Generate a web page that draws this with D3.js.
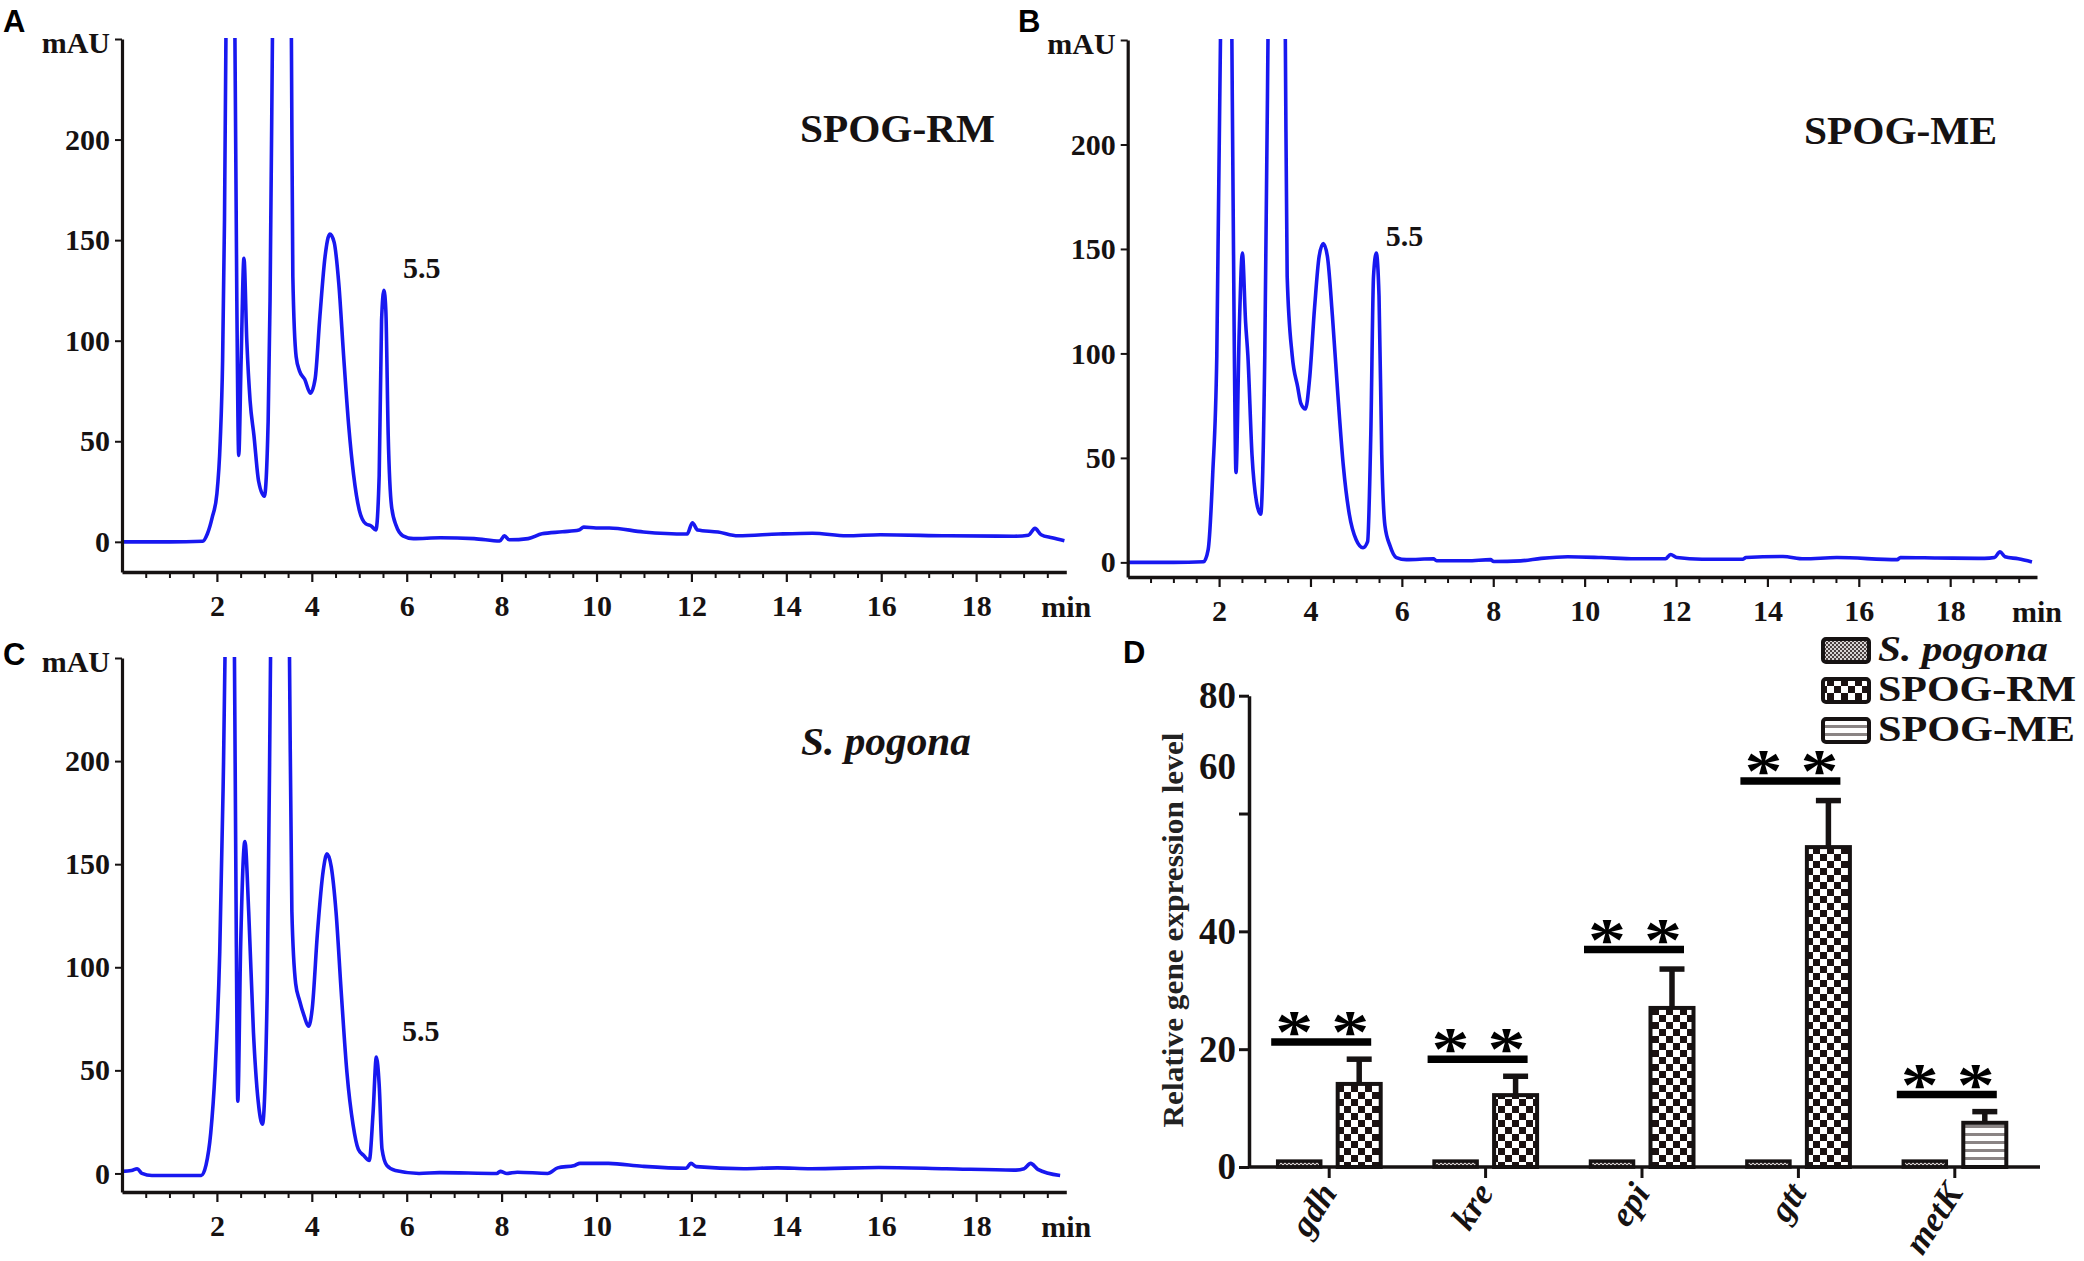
<!DOCTYPE html>
<html><head><meta charset="utf-8">
<script src="https://cdn.jsdelivr.net/npm/d3@7"></script>
<style>
body{margin:0;background:#fff;}
svg{display:block;}
</style></head><body>
<svg id="fig" width="2084" height="1261"></svg>
<script>
// ---------------- DATA ----------------
// Chromatogram A (SPOG-RM): retention time (min) and absorbance (mAU); values > 250 are off-scale (clipped)
const timeA = [0,1.0,1.7,1.8,1.9,2.0,2.07,2.12,2.16,2.19,2.28,2.38,2.42,2.46,2.51,2.57,2.63,2.7,2.78,2.88,3.0,3.08,3.12,3.17,3.37,3.57,3.6,3.67,3.74,3.85,3.97,4.07,4.17,4.28,4.38,4.47,4.57,4.67,4.78,4.88,5.0,5.14,5.25,5.35,5.42,5.47,5.52,5.56,5.61,5.68,5.78,5.92,6.14,6.71,7.42,7.96,8.06,8.16,8.56,8.85,9.28,9.63,9.73,9.99,10.27,10.99,11.91,12.02,12.13,12.56,12.98,13.84,14.55,15.27,15.98,17.4,18.8,19.1,19.24,19.37,19.6,19.86];
const mauA  = [0,0,0.3,4,12,24,50,90,160,250,700,250,120,43,90,141,100,70,53,30,22.7,60,120,250,800,250,132,92,85,80.8,73.9,81,112,142,153,149,128,92.6,57,33.5,15.8,8.9,7.9,5.9,33,110,125,115,53,17.7,7.9,3,1.6,2,1.6,0.4,3,1,1.6,4,5,5.9,7.3,6.9,6.9,4.9,3.9,9.5,5.9,4.9,3,3.9,4.3,3,3.5,3,2.8,3.3,6.7,3.5,2,0.5];

// Chromatogram B (SPOG-ME)
const timeB = [0,1.0,1.66,1.76,1.86,1.95,2.03,2.15,2.28,2.33,2.37,2.44,2.51,2.58,2.63,2.72,2.82,2.91,3.0,3.07,3.26,3.45,3.49,3.6,3.72,3.79,3.89,3.98,4.09,4.19,4.28,4.37,4.48,4.6,4.72,4.85,5.0,5.15,5.25,5.32,5.38,5.44,5.5,5.56,5.63,5.74,5.88,6.1,6.69,6.76,7.43,7.94,8.01,8.6,9.05,9.63,10.37,11.1,11.77,11.88,12.02,12.57,13.46,13.53,14.34,14.8,15.52,16.84,16.91,17.72,18.75,18.97,19.09,19.2,19.49,19.79];
const mauB  = [0,0,0.3,6,42,99,250,700,250,110,43,110,148,115,99,51.6,28.8,23,99,250,800,250,137,99,84,76,73.4,87.7,122,146.5,152.6,146.5,118,80,46,23,10.8,7,9.9,61,137,148,127.6,51.6,17.5,8,2.3,1.3,1.7,0.8,0.8,1.3,0.4,0.7,1.9,2.7,2.3,1.7,1.7,3.8,2.3,1.5,1.5,2.3,2.8,1.7,2.3,1.3,2.3,2.1,1.9,2.3,5.1,2.7,1.7,0.2];

// Chromatogram C (S. pogona)
const timeC = [0,0.2,0.32,0.42,0.63,1.13,1.67,1.77,1.87,1.96,2.06,2.13,2.17,2.27,2.37,2.41,2.44,2.5,2.59,2.67,2.77,2.87,2.96,3.06,3.13,3.33,3.53,3.58,3.66,3.74,3.84,3.93,4.01,4.12,4.24,4.32,4.41,4.51,4.62,4.74,4.87,4.98,5.09,5.21,5.29,5.36,5.42,5.48,5.58,5.76,6.26,6.69,7.9,7.97,8.11,8.33,8.97,9.18,9.54,9.65,10.25,10.96,11.89,11.99,12.1,13.1,13.81,14.52,15.95,17.37,18.8,19.01,19.15,19.3,19.77];
const mauC  = [1,1.4,2.3,0,-1,-1,-1,4,19.6,49,107.6,186,250,700,250,110,35,110,161,127,68.5,35,23.9,88,250,800,250,127,92,84,76.3,71.4,80.2,117,146.8,155,148.7,127,88,49,23.5,11.7,8.8,6.3,29,56.4,43,11.7,3.9,1.4,0,0.4,0,1,0,0.6,0,2.7,3.9,4.9,4.9,3.5,2.5,4.9,3.3,2.3,2.7,2.3,2.9,2.3,1.6,2.3,4.9,2,-1];

const timeTicks = [2,4,6,8,10,12,14,16,18];
const mauTicks  = [0,50,100,150,200,250];
const mauTickLabels = ["0","50","100","150","200","mAU"];

// Panel D: relative gene expression
const genes        = ["gdh","kre","epi","gtt","metK"];
const controlMean  = [1,1,1,1,1];                 // S. pogona
const treatedMean  = [14.1,12.2,27.0,54.3,7.5];
const treatedUpper = [18.3,15.4,33.6,62.2,9.4];  // mean + SD
const treatedGroup = ["SPOG-RM","SPOG-RM","SPOG-RM","SPOG-RM","SPOG-ME"];
const sigLineLevel = [21.2,18.3,36.9,65.5,12.3];
const sigMarks     = ["* *","* *","* *","* *","* *"];
const exprTicks    = [0,20,40,60,80];
const legendGroups = ["S. pogona","SPOG-RM","SPOG-ME"];

// ---------------- DRAWING ----------------
const SERIF = "'Liberation Serif','Times New Roman',serif";
const SANS = "'Liberation Sans',Arial,sans-serif";
const INK = "#161212";
const svg = d3.select("#fig");
const defs = svg.append("defs");

// patterns
(function(){
  const p1 = defs.append("pattern").attr("id","pRM").attr("patternUnits","userSpaceOnUse").attr("width",14).attr("height",14);
  p1.append("rect").attr("width",14).attr("height",14).attr("fill","#fff");
  p1.append("rect").attr("width",7).attr("height",7).attr("fill","#1b1212");
  p1.append("rect").attr("x",7).attr("y",7).attr("width",7).attr("height",7).attr("fill","#1b1212");
  const p0 = defs.append("pattern").attr("id","pSP").attr("patternUnits","userSpaceOnUse").attr("width",4).attr("height",4);
  p0.append("rect").attr("width",4).attr("height",4).attr("fill","#d8d4d4");
  p0.append("rect").attr("width",2).attr("height",2).attr("fill","#4a4040");
  p0.append("rect").attr("x",2).attr("y",2).attr("width",2).attr("height",2).attr("fill","#4a4040");
  const p2 = defs.append("pattern").attr("id","pME").attr("patternUnits","userSpaceOnUse").attr("width",8).attr("height",8);
  p2.append("rect").attr("width",8).attr("height",8).attr("fill","#fff");
  p2.append("rect").attr("y",5).attr("width",8).attr("height",3).attr("fill","#8a8484");
})();
const fillFor = {"S. pogona":"url(#pSP)","SPOG-RM":"url(#pRM)","SPOG-ME":"url(#pME)"};

function drawChrom(cfg){
  const g = svg.append("g");
  const x = d3.scaleLinear().domain([0,19.9]).range([cfg.x0,cfg.x1]);
  const y = d3.scaleLinear().domain([cfg.yMin,250]).range([cfg.yBot,cfg.yTop]);
  const cid = "clip"+cfg.id;
  defs.append("clipPath").attr("id",cid).append("rect")
    .attr("x",cfg.x0).attr("y",cfg.yTop-1).attr("width",cfg.x1-cfg.x0+4).attr("height",cfg.yBot-cfg.yTop);
  const pts = cfg.times.map((t,i)=>[t,cfg.values[i]]);
  g.append("path").datum(pts).attr("clip-path",`url(#${cid})`)
    .attr("fill","none").attr("stroke","#1818f0").attr("stroke-width",3.6).attr("stroke-linejoin","round")
    .attr("d", d3.line().x(d=>x(d[0])).y(d=>y(d[1])).curve(d3.curveMonotoneX));

  // minor x ticks
  const gm = g.append("g").attr("transform",`translate(0,${cfg.yBot})`)
    .call(d3.axisBottom(x).tickValues(d3.range(0.5,19.9,0.5).filter(v=>!timeTicks.includes(v))).tickSize(6).tickFormat(""));
  gm.select(".domain").remove();
  gm.selectAll("line").attr("stroke",INK).attr("stroke-width",2);
  // major x axis
  const gx = g.append("g").attr("transform",`translate(0,${cfg.yBot})`)
    .call(d3.axisBottom(x).tickValues(timeTicks).tickSize(10).tickSizeOuter(0).tickPadding(13).tickFormat(d3.format("d")));
  gx.select(".domain").attr("stroke",INK).attr("stroke-width",3.6);
  gx.selectAll("line").attr("stroke",INK).attr("stroke-width",2.2);
  gx.selectAll("text").attr("font-family",SERIF).attr("font-size",30).attr("font-weight","bold").attr("fill",INK);
  g.append("text").attr("x",x(19.9)).attr("y",cfg.yBot+45).attr("text-anchor","middle")
    .attr("font-family",SERIF).attr("font-size",30).attr("font-weight","bold").attr("fill",INK).text("min");
  // y axis
  const gy = g.append("g").attr("transform",`translate(${cfg.x0},0)`)
    .call(d3.axisLeft(y).tickValues(mauTicks).tickSize(7).tickSizeOuter(0).tickPadding(5)
      .tickFormat((d,i)=>mauTickLabels[i]));
  gy.select(".domain").attr("stroke",INK).attr("stroke-width",3.2);
  gy.selectAll("line").attr("stroke",INK).attr("stroke-width",2);
  gy.selectAll("text").attr("font-family",SERIF).attr("font-size",30).attr("font-weight","bold").attr("fill",INK);
  gy.selectAll(".tick").filter(d=>d===250).select("text").attr("dy","0.45em");

  // sample title
  g.append("text").attr("x",cfg.titleX).attr("y",cfg.titleY)
    .attr("font-family",SERIF).attr("font-size",39).attr("font-weight","bold")
    .attr("font-style",cfg.italic?"italic":"normal").attr("fill",INK)
    .attr("textLength",cfg.titleLen).attr("lengthAdjust","spacingAndGlyphs").text(cfg.title);
  // peak label
  g.append("text").attr("x",x(cfg.peakLabel[0])).attr("y",y(cfg.peakLabel[1]))
    .attr("font-family",SERIF).attr("font-size",30).attr("font-weight","bold").attr("fill",INK).text("5.5");
  // panel letter
  svg.append("text").attr("x",cfg.letterX).attr("y",cfg.letterY)
    .attr("font-family",SANS).attr("font-size",31).attr("font-weight","bold").attr("fill","#000").text(cfg.letter);
}

drawChrom({id:"A",letter:"A",letterX:3,letterY:32,x0:122,x1:1066.3,yTop:39,yBot:572,yMin:-15,
  times:timeA,values:mauA,title:"SPOG-RM",titleX:800,titleY:142,titleLen:195,italic:false,peakLabel:[5.92,131]});
drawChrom({id:"B",letter:"B",letterX:1018,letterY:32,x0:1127.7,x1:2037,yTop:40,yBot:577,yMin:-7,
  times:timeB,values:mauB,title:"SPOG-ME",titleX:1804,titleY:144,titleLen:193,italic:false,peakLabel:[5.65,151.3]});
drawChrom({id:"C",letter:"C",letterX:3,letterY:665,x0:122,x1:1066.3,yTop:658,yBot:1192,yMin:-9,
  times:timeC,values:mauC,title:"S. pogona",titleX:801,titleY:755,titleLen:170,italic:true,peakLabel:[5.9,64.3]});

// ---------------- PANEL D ----------------
(function(){
  const g = svg.append("g");
  const y = d3.scaleLinear().domain([0,80]).range([1167,695.7]);
  const x = d3.scaleBand().domain(genes).range([1251,2033]);
  const sub = d3.scaleBand().domain(["ctrl","trt"]).range([-51.5,51.5]).paddingInner(0.283);
  const cx = g0 => x(g0)+x.bandwidth()/2;

  const rows = genes.map((gn,i)=>({gene:gn,ctrl:controlMean[i],mean:treatedMean[i],upper:treatedUpper[i],
    group:treatedGroup[i],sig:sigLineLevel[i],mark:sigMarks[i]}));
  const bg = g.append("g");
  bg.selectAll("rect.ctrl").data(rows).join("rect").attr("class","ctrl")
    .attr("x",d=>cx(d.gene)+sub("ctrl")).attr("width",sub.bandwidth())
    .attr("y",d=>y(d.ctrl)).attr("height",d=>y(0)-y(d.ctrl))
    .attr("fill",fillFor["S. pogona"]).attr("stroke",INK).attr("stroke-width",3.5);
  // error bars
  const ex = d=>cx(d.gene)+sub("trt")+sub.bandwidth()/2;
  bg.selectAll("line.err").data(rows).join("line").attr("class","err")
    .attr("x1",ex).attr("x2",ex)
    .attr("y1",d=>y(d.mean)).attr("y2",d=>y(d.upper)).attr("stroke",INK).attr("stroke-width",5.5);
  bg.selectAll("line.cap").data(rows).join("line").attr("class","cap")
    .attr("x1",d=>ex(d)-12.5).attr("x2",d=>ex(d)+12.5)
    .attr("y1",d=>y(d.upper)).attr("y2",d=>y(d.upper)).attr("stroke",INK).attr("stroke-width",5.5);
  bg.selectAll("rect.trt").data(rows).join("rect").attr("class","trt")
    .attr("x",d=>cx(d.gene)+sub("trt")).attr("width",sub.bandwidth())
    .attr("y",d=>y(d.mean)).attr("height",d=>y(0)-y(d.mean))
    .attr("fill",d=>fillFor[d.group]).attr("stroke",INK).attr("stroke-width",4);

  // significance lines + asterisks
  bg.selectAll("line.sig").data(rows).join("line").attr("class","sig")
    .attr("x1",d=>cx(d.gene)-8-50).attr("x2",d=>cx(d.gene)-8+50)
    .attr("y1",d=>y(d.sig)).attr("y2",d=>y(d.sig)).attr("stroke","#000").attr("stroke-width",7.5);
  rows.forEach(d=>{
    const marks = d.mark.split(" ");
    [-35,21].forEach((off,k)=>{
      bg.append("text").attr("transform",`translate(${cx(d.gene)+off},${y(d.sig)-21}) scale(1.0,0.82)`)
        .attr("y","0.5em").attr("text-anchor","middle")
        .attr("font-family",SERIF).attr("font-size",76).attr("font-weight","bold").attr("fill","#000").text(marks[k]);
    });
  });

  // y axis
  const gy = g.append("g").attr("transform","translate(1249,0)")
    .call(d3.axisLeft(y).tickValues(exprTicks).tickSize(10).tickSizeOuter(0).tickPadding(3).tickFormat(d3.format("d")));
  gy.select(".domain").attr("stroke",INK).attr("stroke-width",3.5);
  gy.selectAll("line").attr("stroke",INK).attr("stroke-width",3);
  gy.selectAll("text").attr("font-family",SERIF).attr("font-size",37).attr("font-weight","bold").attr("fill",INK);
  // the "60" label sits above its tick in the original figure
  gy.selectAll(".tick").filter(d=>d===60).select("text").attr("y",-47);

  // x axis
  const gx = g.append("g").attr("transform","translate(0,1167)");
  gx.append("line").attr("x1",1249).attr("x2",2040).attr("stroke",INK).attr("stroke-width",3.5);
  gx.selectAll("line.t").data(genes).join("line").attr("class","t")
    .attr("x1",d=>cx(d)).attr("x2",d=>cx(d)).attr("y1",0).attr("y2",11).attr("stroke",INK).attr("stroke-width",3);
  gx.selectAll("text").data(genes).join("text")
    .attr("transform",d=>`translate(${cx(d)+9},${26}) rotate(-57)`)
    .attr("text-anchor","end").attr("font-family",SERIF).attr("font-size",35)
    .attr("font-weight","bold").attr("font-style","italic").attr("fill",INK).text(d=>d);

  // y label
  g.append("text").attr("transform","translate(1183,930) rotate(-90)").attr("text-anchor","middle")
    .attr("font-family",SERIF).attr("font-size",29).attr("font-weight","bold").attr("fill","#222")
    .attr("textLength",395).attr("lengthAdjust","spacingAndGlyphs").text("Relative gene expression level");

  // legend
  const lg = g.append("g");
  const lens = [170,198,197];
  legendGroups.forEach((name,i)=>{
    lg.append("rect").attr("x",1823).attr("y",639+i*40).attr("width",46).attr("height",23).attr("rx",3)
      .attr("fill",fillFor[name]).attr("stroke",INK).attr("stroke-width",4);
    lg.append("text").attr("x",1878).attr("y",661+i*40)
      .attr("font-family",SERIF).attr("font-size",36).attr("font-weight","bold")
      .attr("font-style",i===0?"italic":"normal").attr("fill",INK)
      .attr("textLength",lens[i]).attr("lengthAdjust","spacingAndGlyphs").text(name);
  });

  svg.append("text").attr("x",1123).attr("y",663)
    .attr("font-family",SANS).attr("font-size",31).attr("font-weight","bold").attr("fill","#000").text("D");
})();
</script>
</body></html>
